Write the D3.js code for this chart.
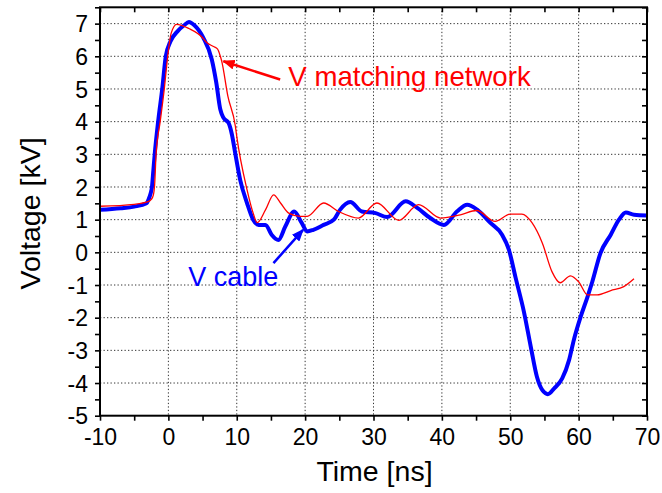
<!DOCTYPE html>
<html>
<head>
<meta charset="utf-8">
<script src="https://cdn.jsdelivr.net/npm/d3@7"></script>
<style>
  body { margin: 0; background: #fff; }
  svg { font-family: "Liberation Sans", Arial, sans-serif; }
</style>
</head>
<body>
<svg id="chart" width="662" height="493"></svg>
<script>
// values
const cableT = [-10, -7, -5, -3.2, -2.9, -2.6, -2.4, -2.2, -2.0, -1.5, -0.9, -0.38, 0.3, 1.4, 2.3, 3.0, 3.8, 5.1, 6.35, 7.0, 7.6, 8.05, 8.8, 9.3, 9.77, 10.5, 11.5, 12.4, 13.2, 14.2, 15.1, 16.1, 17.1, 18.4, 19.5, 20.3, 21.2, 22.7, 24.2, 25.1, 26.6, 28.3, 30.3, 32.0, 34.7, 36.4, 38.3, 40.3, 42.2, 43.7, 45.2, 47.1, 48.8, 49.8, 50.8, 52, 53, 53.9, 54.7, 55.5, 56.4, 57.6, 58.6, 59.3, 60.3, 61.3, 62, 63.2, 64.7, 65.9, 66.9, 68.1, 70];
const cableV = [1.30, 1.35, 1.40, 1.50, 1.62, 1.80, 2.0, 2.5, 3.0, 4.0, 5.0, 6.0, 6.45, 6.78, 6.95, 7.05, 6.95, 6.57, 5.9, 5.2, 4.37, 4.12, 3.96, 3.6, 3.04, 2.22, 1.51, 1.0, 0.84, 0.84, 0.54, 0.38, 0.79, 1.25, 0.9, 0.64, 0.69, 0.84, 1.0, 1.3, 1.54, 1.25, 1.2, 1.08, 1.56, 1.36, 1.05, 0.84, 1.25, 1.46, 1.3, 0.9, 0.54, 0.08, -0.79, -1.82, -2.89, -3.81, -4.22, -4.34, -4.17, -3.86, -3.3, -2.68, -1.97, -1.36, -0.9, -0.02, 0.54, 1.0, 1.22, 1.15, 1.13];

const matchT = [-10, -5, -3, -2.5, -2.2, -2.0, -1.8, -1.2, -0.6, -0.1, 0.4, 1.2, 3, 5, 5.6, 6.6, 7.2, 7.6, 7.8, 8.7, 9.8, 10, 11.5, 12.4, 13.0, 14.2, 15.4, 16.4, 17.6, 19.3, 20.3, 22.7, 24.9, 27.8, 30.5, 33.7, 36.6, 39.8, 42.7, 45.1, 47.8, 50, 51.7, 53.2, 54.7, 56.1, 57.3, 58.8, 60, 61.3, 62.7, 64.7, 66.6, 68.1];
const matchV = [1.41, 1.47, 1.55, 1.62, 1.75, 2.1, 3.0, 4.0, 5.0, 6.0, 6.7, 6.98, 6.85, 6.57, 6.42, 6.3, 6.22, 6.0, 5.85, 4.78, 3.86, 3.55, 1.92, 1.2, 0.91, 1.3, 1.76, 1.51, 1.2, 1.1, 1.1, 1.51, 1.25, 1.05, 1.51, 0.98, 1.46, 1.05, 1.15, 1.28, 0.95, 1.17, 1.17, 0.9, 0.28, -0.59, -0.93, -0.72, -0.9, -1.3, -1.3, -1.17, -1.05, -0.81];

const xTicks = [-10, 0, 10, 20, 30, 40, 50, 60, 70];
const yTicks = [-5, -4, -3, -2, -1, 0, 1, 2, 3, 4, 5, 6, 7];

const svg = d3.select("#chart");
const mLeft = 100, mRight = 647, mTop = 7.3, mBottom = 415.7;

const x = d3.scaleLinear().domain([-10, 70]).range([mLeft, mRight]);
const y = d3.scaleLinear().domain([-5, 7.5]).range([mBottom, mTop]);

// grid
const grid = svg.append("g")
    .attr("stroke", "#333")
    .attr("stroke-width", 1)
    .attr("stroke-dasharray", "1.3,2.2");
grid.selectAll("line.gx")
    .data(xTicks.slice(1, -1))
    .join("line")
    .attr("x1", d => x(d)).attr("x2", d => x(d))
    .attr("y1", mTop).attr("y2", mBottom);
grid.selectAll("line.gy")
    .data(yTicks.slice(1))
    .join("line")
    .attr("y1", d => y(d)).attr("y2", d => y(d))
    .attr("x1", mLeft).attr("x2", mRight);

// curves
const line = d3.line()
    .x(d => x(d[0]))
    .y(d => y(d[1]))
    .curve(d3.curveMonotoneX);

svg.append("path")
    .datum(cableT.map((t, i) => [t, cableV[i]]))
    .attr("fill", "none")
    .attr("stroke", "#0000ff")
    .attr("stroke-width", 4)
    .attr("stroke-linejoin", "round")
    .attr("d", line);

svg.append("path")
    .datum(matchT.map((t, i) => [t, matchV[i]]))
    .attr("fill", "none")
    .attr("stroke", "#ff0000")
    .attr("stroke-width", 1.3)
    .attr("d", line);

// axes
const fs = 23;
const minorX = d3.range(-10, 70.1, 5);
const minorY = d3.range(-5, 7.6, 0.5);

const bottomAxis = svg.append("g")
    .attr("transform", `translate(0,${mBottom})`)
    .call(d3.axisBottom(x).tickValues(minorX).tickSize(5)
        .tickFormat(d => xTicks.includes(d) ? d : ""));
const topAxis = svg.append("g")
    .attr("transform", `translate(0,${mTop})`)
    .call(d3.axisBottom(x).tickValues(minorX).tickSize(5).tickFormat(""));
const leftAxis = svg.append("g")
    .attr("transform", `translate(${mLeft},0)`)
    .call(d3.axisLeft(y).tickValues(minorY).tickSize(5)
        .tickFormat(d => yTicks.includes(d) ? d : ""));
const rightAxis = svg.append("g")
    .attr("transform", `translate(${mRight},0)`)
    .call(d3.axisLeft(y).tickValues(minorY).tickSize(5).tickFormat(""));

[bottomAxis, topAxis, leftAxis, rightAxis].forEach(g => {
    g.select(".domain").remove();
    g.selectAll(".tick line").attr("stroke", "#000").attr("stroke-width", 1.6);
    g.selectAll("text").attr("font-size", fs).attr("fill", "#000")
        .attr("font-family", "Liberation Sans, Arial, sans-serif");
});
bottomAxis.selectAll("text").attr("dy", "0.72em").attr("y", 13);
leftAxis.selectAll("text").attr("x", -12).attr("dy", "0.36em");

svg.append("rect")
    .attr("x", mLeft).attr("y", mTop)
    .attr("width", mRight - mLeft).attr("height", mBottom - mTop)
    .attr("fill", "none").attr("stroke", "#000").attr("stroke-width", 2);

// titles
svg.append("text")
    .attr("x", (mLeft + mRight) / 2 + 1)
    .attr("y", 481)
    .attr("text-anchor", "middle")
    .attr("font-size", 28.5)
    .text("Time [ns]");
svg.append("text")
    .attr("transform", `translate(40,${(mTop + mBottom) / 2 + 2}) rotate(-90)`)
    .attr("text-anchor", "middle")
    .attr("font-size", 28.5)
    .text("Voltage [kV]");

// annotations
const defs = svg.append("defs");
[["headR", "#ff0000"], ["headB", "#0000ff"]].forEach(([id, c]) => {
    defs.append("marker")
        .attr("id", id)
        .attr("viewBox", "0 0 10 8")
        .attr("refX", 9).attr("refY", 4)
        .attr("markerWidth", 5).attr("markerHeight", 4)
        .attr("orient", "auto")
        .append("path").attr("d", "M0,0L10,4L0,8Z").attr("fill", c);
});

svg.append("line")
    .attr("x1", x(16.35)).attr("y1", y(5.29))
    .attr("x2", x(8.05)).attr("y2", y(5.85))
    .attr("stroke", "#ff0000").attr("stroke-width", 2.5)
    .attr("marker-end", "url(#headR)");
svg.append("text")
    .attr("x", x(17.55)).attr("y", y(5.08))
    .attr("font-size", 27.6).attr("fill", "#ff0000")
    .text("V matching network");

svg.append("line")
    .attr("x1", x(15.37)).attr("y1", y(-0.33))
    .attr("x2", x(19.7)).attr("y2", y(0.69))
    .attr("stroke", "#0000ff").attr("stroke-width", 2.5)
    .attr("marker-end", "url(#headB)");
svg.append("text")
    .attr("x", x(2.9)).attr("y", y(-1.03))
    .attr("font-size", 27).attr("fill", "#0000ff")
    .text("V cable");
</script>
</body>
</html>
